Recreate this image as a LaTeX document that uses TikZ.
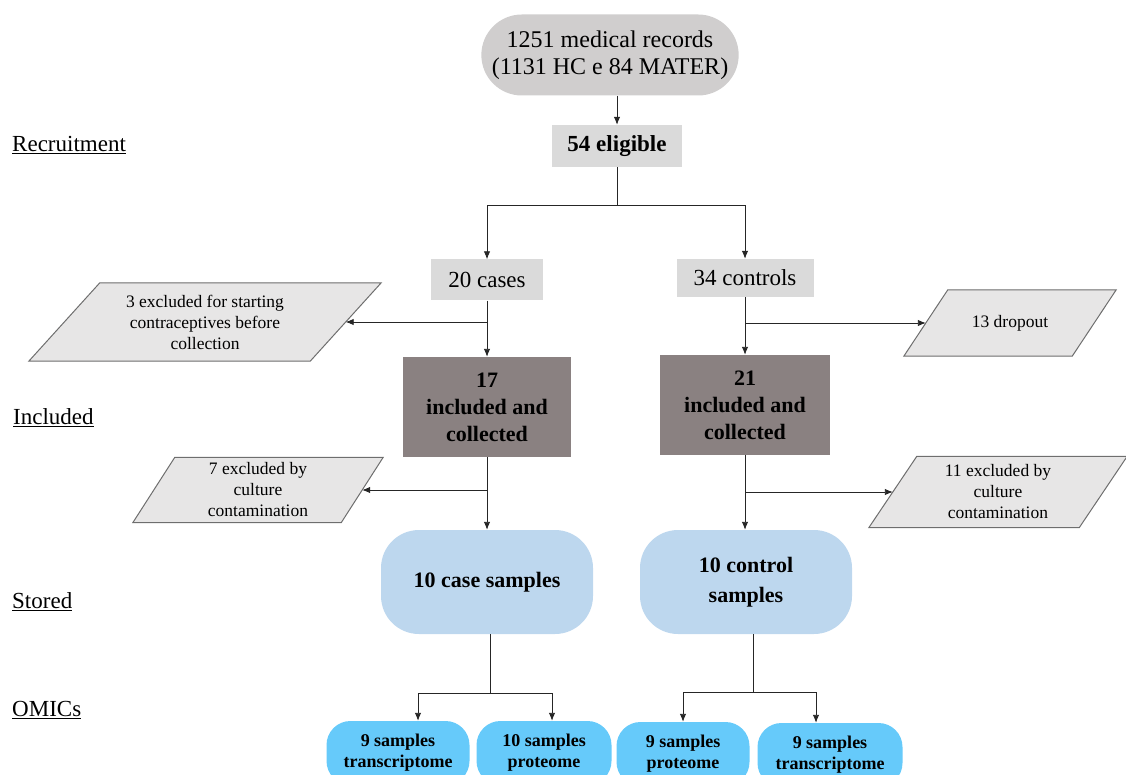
\documentclass[tikz,border=0pt]{standalone}
\usepackage{fontspec}
\setmainfont{Liberation Serif}
\usetikzlibrary{shapes.misc,arrows.meta,positioning,backgrounds}

\definecolor{recgray}{RGB}{208,206,206}
\definecolor{boxgray}{RGB}{218,218,218}
\definecolor{incgray}{RGB}{138,129,129}
\definecolor{excgray}{RGB}{231,230,230}
\definecolor{edgegray}{RGB}{110,110,110}
\definecolor{storeblue}{RGB}{189,215,238}
\definecolor{omicblue}{RGB}{102,202,250}

\tikzset{
  stepgray/.style={rectangle, fill=boxgray, align=center, inner sep=0pt,
    font=\fontsize{23}{27}\selectfont},
  incbox/.style={rectangle, fill=incgray, align=center, inner sep=0pt,
    minimum width=168pt, minimum height=100pt,
    font=\fontsize{22}{27}\selectfont\bfseries},
  excbox/.style={rectangle, align=center, inner sep=0pt,
    font=\fontsize{17.5}{21}\selectfont},
  excpath/.style={fill=excgray, draw=edgegray, line width=1pt},
  storebox/.style={rectangle, rounded corners=38pt, fill=storeblue, align=center,
    minimum width=212pt, minimum height=104pt,
    font=\fontsize{22}{30}\selectfont\bfseries},
  omicbox/.style={rectangle, rounded corners=24pt, fill=omicblue, align=center,
    minimum height=64pt, font=\fontsize{18}{21}\selectfont\bfseries},
  lbl/.style={anchor=west, inner sep=0pt, font=\fontsize{23}{27}\selectfont},
  conn/.style={draw=black!85, line width=0.9pt}
}

\begin{document}
\begin{tikzpicture}[x=1pt, y=-1pt, >={Latex[length=8pt,width=6.5pt]}]
  \useasboundingbox (0,0) rectangle (1126,775);

  % stage labels
  \node[lbl] (lrec) at (12,145) {\underline{Recruitment}};
  \node[lbl] (linc) at (13,418) {\underline{Included}};
  \node[lbl] (lsto) at (12,602) {\underline{Stored}};
  \node[lbl] (lomi) at (12,710) {\underline{OMICs}};

  % recruitment
  \node[rounded rectangle, fill=recgray, align=center, minimum width=264pt,
    minimum height=81pt, font=\fontsize{24}{27}\selectfont] (rec) at (610,55)
    {1251 medical records\\(1131 HC e 84 MATER)};
  \node[stepgray, minimum width=130pt, minimum height=42pt] (elig) at (617,146)
    {\bfseries 54 eligible};
  \node[stepgray, minimum width=112pt, minimum height=41pt] (cases) at (487,280) {20 cases};
  \node[stepgray, minimum width=137pt, minimum height=38pt] (ctrls) at (745,278) {34 controls};

  % included
  \node[incbox] (inc1) at (487,407) {17\\included and\\collected};
  \node[incbox, minimum width=170pt] (inc2) at (745,405) {21\\included and\\collected};

  % exclusions (parallelograms drawn behind)
  \node[excbox, minimum width=281pt, minimum height=78pt] (excl1) at (205,322)
    {3 excluded for starting\\contraceptives before\\collection};
  \node[excbox, minimum width=168pt, minimum height=66pt] (drop) at (1010,323) {13 dropout};
  \node[excbox, minimum width=208pt, minimum height=65pt] (excl7) at (258,490)
    {7 excluded by\\culture\\contamination};
  \node[excbox, minimum width=210pt, minimum height=71pt] (excl11) at (998,492)
    {11 excluded by\\culture\\contamination};
  \begin{scope}[on background layer]
    \foreach \n/\s in {excl1/35.5, drop/22, excl7/21, excl11/24}
      \draw[excpath] ([xshift=-\s pt]\n.south west) -- ([xshift=\s pt]\n.north west)
        -- ([xshift=\s pt]\n.north east) -- ([xshift=-\s pt]\n.south east) -- cycle;
  \end{scope}

  % stored
  \node[storebox] (st1) at (487,582) {10 case samples};
  \node[storebox] (st2) at (746,582) {10 control\\samples};

  % omics
  \node[omicbox, minimum width=143pt] (om1) at (398,753) {9 samples\\transcriptome};
  \node[omicbox, minimum width=135pt] (om2) at (544,753) {10 samples\\proteome};
  \node[omicbox, minimum width=133pt] (om3) at (683,754) {9 samples\\proteome};
  \node[omicbox, minimum width=145pt] (om4) at (830,755) {9 samples\\transcriptome};

  % connectors
  \coordinate (split) at (617,205);
  \coordinate (fork1) at (490,693);
  \coordinate (fork2) at (753,692);
  \draw[conn, ->] (rec.south -| elig.north) -- (elig.north);
  \draw[conn] (elig.south) -- (split);
  \draw[conn, ->] (split) -| (cases.north);
  \draw[conn, ->] (split) -| (ctrls.north);
  \draw[conn, ->] (cases.south) -- (inc1.north);
  \draw[conn, ->] (cases.south |- excl1) -- (excl1);
  \draw[conn, ->] (ctrls.south) -- (inc2.north);
  \draw[conn, ->] (ctrls.south |- drop) -- (drop);
  \draw[conn, ->] (inc1.south) -- (st1.north);
  \draw[conn, ->] (inc1.south |- excl7) -- (excl7);
  \draw[conn, ->] (inc2.south) -- (inc2.south |- st2.north);
  \draw[conn, ->] (inc2.south |- excl11) -- (excl11);
  \draw[conn] (st1.south -| fork1) -- (fork1);
  \draw[conn, ->] (fork1) -| ([xshift=20pt]om1.north);
  \draw[conn, ->] (fork1) -| ([xshift=8pt]om2.north);
  \draw[conn] (st2.south -| fork2) -- (fork2);
  \draw[conn, ->] (fork2) -| (om3.north);
  \draw[conn, ->] (fork2) -| ([xshift=-14pt]om4.north);
\end{tikzpicture}
\end{document}
